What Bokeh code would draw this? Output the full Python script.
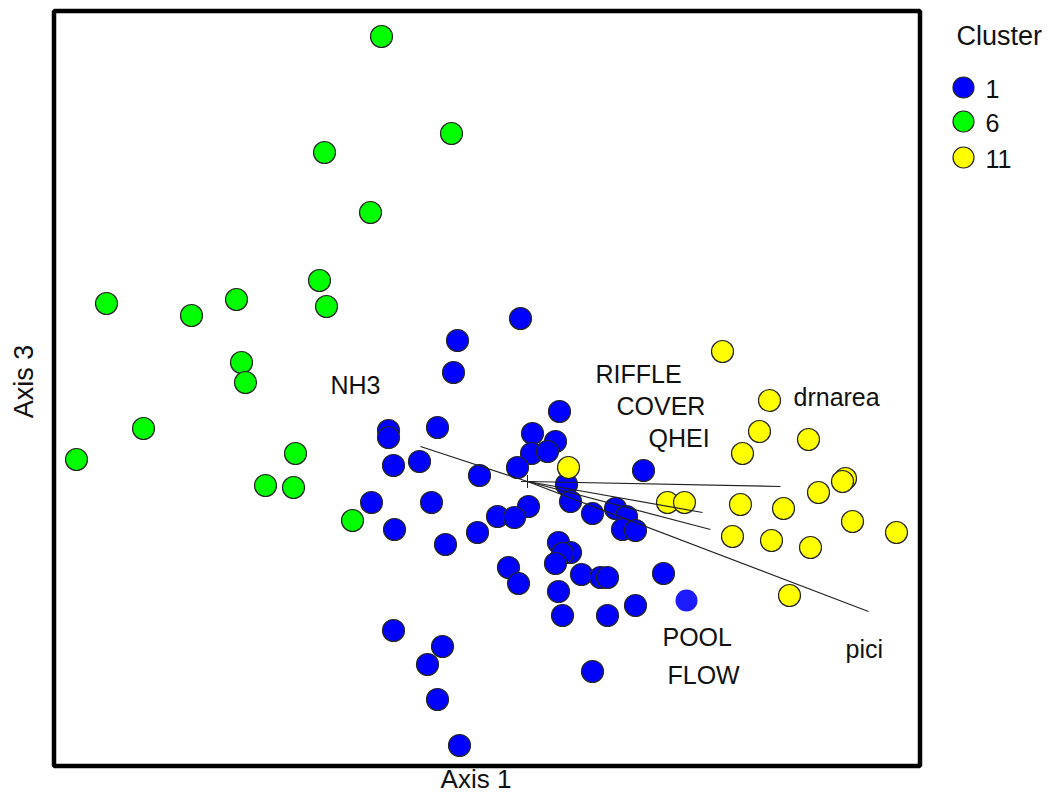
import math
from bokeh.plotting import figure
from bokeh.models import Range1d
from bokeh.core.properties import value
from bokeh.embed import file_html
from bokeh.resources import INLINE

FONT = "Liberation Sans"

# ---- ordination scores (Axis 1, Axis 3) ----
c1_x = [-0.07, -0.70, -0.74, 0.32, -1.39, -1.39, -0.90, 0.05, 0.28, 0.04, 0.20, -1.34,
        -1.08, -0.10, -0.48, 1.16, 0.39, 0.43, -1.56, -0.96, 0.01, -0.30, -0.13, 0.65,
        0.88, 0.99, 0.95, 1.08, -1.33, -0.82, -0.50, 0.31, 0.43, 0.35, 0.28, -0.19,
        -0.09, 0.54, 0.73, 0.80, 1.36, 0.31, 1.08, 0.35, 0.80, -1.34, -0.85, -1.00,
        -0.90, -0.68, 0.65]
c1_y = [1.63, 1.41, 1.09, 0.70, 0.51, 0.44, 0.54, 0.48, 0.40, 0.28, 0.30, 0.16,
        0.20, 0.14, 0.06, 0.11, -0.03, -0.20, -0.21, -0.21, -0.25, -0.35, -0.36, -0.32,
        -0.27, -0.35, -0.48, -0.49, -0.48, -0.63, -0.51, -0.61, -0.71, -0.72, -0.82, -0.86,
        -1.02, -0.93, -0.96, -0.96, -0.92, -1.10, -1.24, -1.34, -1.34, -1.49, -1.65, -1.83,
        -2.18, -2.64, -1.90]
c1_extra_x = [1.59]
c1_extra_y = [-1.19]

c6_x = [-1.46, -0.76, -2.03, -1.57, -2.08, -2.01, -2.91, -4.21, -3.36, -2.86, -2.82,
        -3.84, -4.51, -2.32, -2.62, -2.34, -1.75]
c6_y = [4.45, 3.48, 3.29, 2.69, 2.01, 1.75, 1.82, 1.78, 1.66, 1.19, 0.99,
        0.53, 0.22, 0.28, -0.04, -0.06, -0.39]

c11_x = [0.41, 1.95, 2.42, 2.32, 2.15, 2.81, 3.18, 3.15, 2.91, 2.13, 2.56, 1.40, 1.57,
         3.25, 3.69, 2.05, 2.44, 2.83, 2.62]
c11_y = [0.14, 1.30, 0.81, 0.50, 0.28, 0.42, 0.03, 0.00, -0.11, -0.23, -0.27, -0.21, -0.21,
         -0.40, -0.51, -0.55, -0.59, -0.66, -1.14]

# ---- environmental vectors (end points, origin at 0,0) ----
vec_x = [-1.07, 2.53, 1.75, 1.83, 3.41]
vec_y = [0.35, -0.05, -0.31, -0.48, -1.30]

var_names = ["NH3", "RIFFLE", "COVER", "QHEI", "drnarea", "POOL", "FLOW", "pici"]

# legend content
legend_title = "Cluster"
cluster_names = ["1", "6", "11"]
cluster_colors = ["#0000ff", "#00ff00", "#ffff00"]

# ---- layout anchors (axis-unit positions of the plot box and texts) ----
box = dict(left=-4.735, right=3.925, bottom=-2.845, top=4.705)
var_lx = [-1.97, 0.68, 0.89, 1.21, 2.66, 1.35, 1.40, 3.18]
var_ly = [0.97, 1.08, 0.76, 0.435, 0.85, -1.555, -1.935, -1.675]
leg_x, leg_text_x = 4.36, 4.58
leg_y = [3.94, 3.60, 3.24]

p = figure(width=1043, height=794,
           x_range=Range1d(-5.27, 5.16), y_range=Range1d(-3.13, 4.81),
           x_axis_type=None, y_axis_type=None,
           output_backend="svg", toolbar_location=None, min_border=0)
p.grid.visible = False
p.outline_line_color = None
p.background_fill_color = "white"
p.border_fill_color = "white"

# plot box
p.quad(left=[box["left"]], right=[box["right"]], bottom=[box["bottom"]], top=[box["top"]],
       fill_color=None, line_color="black", line_width=4.5)

OUT = "#262626"
p.scatter(c1_x, c1_y, size=22, fill_color=cluster_colors[0], line_color=OUT, line_width=1.2)
p.scatter(c1_extra_x, c1_extra_y, size=22, fill_color="#1c1cff", line_color=None)
p.scatter(c6_x, c6_y, size=22, fill_color=cluster_colors[1], line_color=OUT, line_width=1.2)
p.scatter(c11_x, c11_y, size=22, fill_color=cluster_colors[2], line_color=OUT, line_width=1.2)

p.segment(x0=[0] * len(vec_x), y0=[0] * len(vec_y), x1=vec_x, y1=vec_y,
          line_color="#222222", line_width=1.2)
p.scatter([0], [0], marker="cross", size=13, line_color="#222222", line_width=1)

p.text(x=var_lx, y=var_ly, text=var_names, text_font=value(FONT), text_font_size="25px",
       text_baseline="middle", text_align="left", text_color="#111111")

# axis titles
p.text(x=[(box["left"] + box["right"]) / 2 - 0.11], y=[-2.97], text=["Axis 1"],
       text_font=value(FONT), text_font_size="26px", text_baseline="middle",
       text_align="center", text_color="#111111")
p.text(x=[-5.04], y=[1.00], text=["Axis 3"], angle=math.pi / 2,
       text_font=value(FONT), text_font_size="27px", text_baseline="middle",
       text_align="center", text_color="#111111")

# legend
p.text(x=[4.29], y=[4.455], text=[legend_title], text_font=value(FONT), text_font_size="27px",
       text_baseline="middle", text_align="left", text_color="#111111")
p.scatter([leg_x] * 3, leg_y, size=21, fill_color=cluster_colors, line_color=OUT, line_width=1.2)
p.text(x=[leg_text_x] * 3, y=[v - 0.01 for v in leg_y], text=cluster_names,
       text_font=value(FONT), text_font_size="25px", text_baseline="middle",
       text_align="left", text_color="#111111")

open("out.html", "w").write(file_html(p, INLINE))
